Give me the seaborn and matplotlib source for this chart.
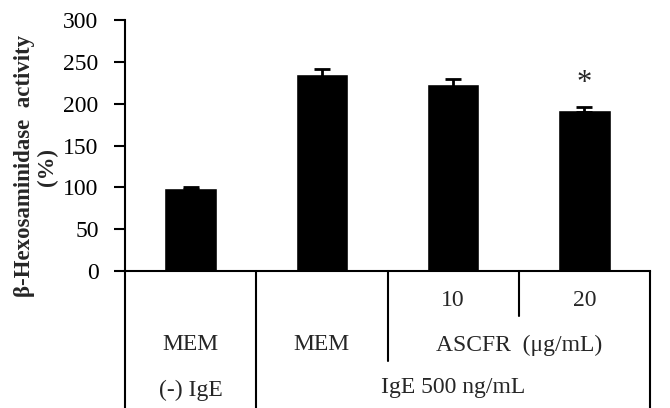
import pandas as pd
import matplotlib.pyplot as plt
import seaborn as sns

# values
groups = ["MEM (-) IgE", "MEM IgE", "ASCFR 10", "ASCFR 20"]
activity = [99, 235, 224, 193]
sem = [1.5, 6, 5.5, 3]
signif = ["", "", "", "*"]

conc_labels = ["", "", "10", "20"]
medium_labels = ["MEM", "MEM"]
treat_label = "ASCFR  (\u03bcg/mL)"
ige_labels = ["(-) IgE", "IgE 500 ng/mL"]

df = pd.DataFrame({"group": groups, "activity": activity, "sem": sem})

sns.set_style("ticks")
plt.rcParams["font.family"] = ["Liberation Serif", "DejaVu Serif"]

fig = plt.figure(figsize=(6.7, 4.08), dpi=100)
H = 408
ax = fig.add_axes([125 / 670, (H - 271) / H, 525 / 670, 251 / H])

sns.barplot(data=df, x="group", y="activity", color="black", width=0.4,
            errorbar=None, ax=ax, saturation=1)
ax.errorbar(range(len(groups)), df["activity"], yerr=df["sem"], fmt="none",
            ecolor="black", elinewidth=2, capsize=6, capthick=2)
for i, s in enumerate(signif):
    if s:
        ax.text(i, df["activity"][i] + df["sem"][i] + 28, s, ha="center",
                va="center", fontsize=22)

ax.set_xlim(-0.5, len(groups) - 0.5)
ax.set_ylim(0, 300)
ax.set_yticks(range(0, 301, 50))
ax.tick_params(axis="y", labelsize=17, length=8, width=1.5, colors="black", pad=11)
ax.tick_params(axis="x", bottom=False, labelbottom=False)
ax.set_xlabel("")
ax.set_ylabel("")
sns.despine(ax=ax)
for sp in ["left", "bottom"]:
    ax.spines[sp].set_linewidth(1.5)
    ax.spines[sp].set_color("black")


# table under the axis (x in data units, y in axes fraction)
def yf(px):
    return (271 - px) / 251


tr = ax.get_xaxis_transform()
line_kw = dict(color="black", lw=1.5, clip_on=False, transform=tr)
bottom = yf(H + 2)
ax.plot([-0.5, -0.5], [0, bottom], **line_kw)
ax.plot([0.5, 0.5], [0, bottom], **line_kw)
ax.plot([3.5, 3.5], [0, bottom], **line_kw)
ax.plot([1.5, 1.5], [0, yf(361)], **line_kw)
ax.plot([2.5, 2.5], [0, yf(316)], **line_kw)

txt_kw = dict(ha="center", va="center", fontsize=17, transform=tr, clip_on=False)
for i, lab in enumerate(conc_labels):
    if lab:
        ax.text(i, yf(300), lab, **txt_kw)
for i, lab in enumerate(medium_labels):
    ax.text(i, yf(345), lab, **txt_kw)
ax.text(2.5, yf(345), treat_label, **txt_kw)
ax.text(0, yf(390), ige_labels[0], **txt_kw)
ax.text(2, yf(388), ige_labels[1], **txt_kw)

fig.text(25 / 670, 1 - 166 / H, "\u03b2-Hexosaminidase  activity", rotation=90,
         ha="center", va="center", fontsize=16.5, fontweight="bold")
fig.text(47 / 670, 1 - 167 / H, "(%)", rotation=90, ha="center", va="center",
         fontsize=16.5, fontweight="bold")

fig.savefig("out.png", dpi=100)
